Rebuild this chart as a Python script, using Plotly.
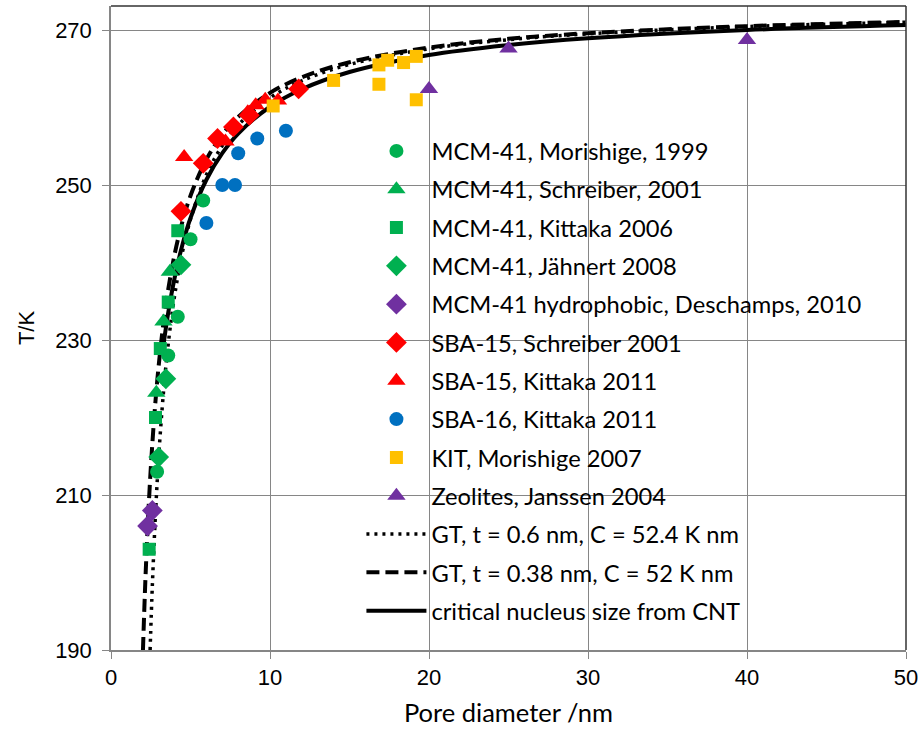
import plotly.graph_objects as go

# ---- measured freezing points in mesopores (pore diameter / nm, T / K) ----
mcm_morishige_d = [2.9, 3.6, 4.2, 5.0, 5.8]
mcm_morishige_t = [213.0, 228.0, 233.0, 243.0, 248.0]

mcm_schreiber_d = [2.85, 3.3, 3.7]
mcm_schreiber_t = [223.2, 232.4, 238.8]

mcm_kittaka_d = [2.4, 2.8, 3.1, 3.6, 4.2]
mcm_kittaka_t = [203.0, 220.0, 228.9, 234.9, 244.1]

mcm_jaehnert_d = [3.0, 3.45, 4.4]
mcm_jaehnert_t = [214.9, 225.0, 239.7]

mcm_hydrophobic_d = [2.3, 2.6]
mcm_hydrophobic_t = [206.0, 208.0]

sba15_schreiber_d = [4.4, 5.8, 6.7, 7.7, 8.7, 11.8]
sba15_schreiber_t = [246.6, 252.8, 256.0, 257.5, 259.0, 262.4]

sba15_kittaka_d = [4.6, 7.2, 8.6, 9.1, 9.7, 10.5]
sba15_kittaka_t = [253.6, 255.6, 259.4, 260.3, 261.0, 260.9]

sba16_kittaka_d = [6.0, 7.0, 7.8, 8.0, 9.2, 11.0]
sba16_kittaka_t = [245.1, 250.0, 250.0, 254.1, 256.0, 257.0]

kit_morishige_d = [10.2, 14.0, 16.85, 16.85, 17.4, 18.4, 19.2, 19.2]
kit_morishige_t = [260.2, 263.5, 265.5, 263.0, 266.1, 265.8, 266.6, 261.0]

zeolites_d = [20.0, 25.0, 40.0]
zeolites_t = [262.4, 267.6, 268.7]

# ---- model curves ----
gt06_d = [2.46, 2.6, 2.8, 3.0, 3.3, 3.6, 4.0, 4.5, 5.0, 6.0, 7.0, 8.0,
          10.0, 12.0, 15.0, 20.0, 25.0, 30.0, 40.0, 50.0]
gt06_t = [190.0, 198.3, 207.65, 214.93, 223.25, 229.48, 235.72, 241.39,
          245.57, 251.32, 255.08, 257.74, 261.24, 263.45, 265.56, 267.58,
          268.75, 269.51, 270.45, 271.0]

gt038_d = [2.01, 2.1, 2.2, 2.4, 2.6, 2.8, 3.0, 3.3, 3.6, 4.0, 4.5, 5.0,
           6.0, 7.0, 8.0, 10.0, 12.0, 15.0, 20.0, 25.0, 30.0, 40.0, 50.0]
gt038_t = [190.0, 195.54, 200.93, 209.74, 216.63, 222.17, 226.72, 232.21,
           236.53, 241.05, 245.34, 248.62, 253.3, 256.48, 258.79, 261.89,
           263.9, 265.85, 267.74, 268.86, 269.59, 270.5, 271.04]

cnt_d = [3.3, 3.6, 4.0, 4.5, 5.0, 6.0, 7.0, 8.0, 10.0,
         12.0, 15.0, 20.0, 25.0, 30.0, 40.0, 50.0]
cnt_t = [229.35, 233.53, 238.0, 242.35, 245.74,
         250.68, 254.11, 256.64, 260.1, 262.36, 264.58, 266.78, 268.07,
         268.93, 270.0, 270.64]

GREEN = "#00B050"
PURPLE = "#7030A0"
RED = "#FF0000"
BLUE = "#0070C0"
GOLD = "#FFC000"

TEXT_FONT = "Lato, 'Noto Sans', sans-serif"
NUM_FONT = "'Liberation Sans', Arial, sans-serif"

fig = go.Figure()

lines = [
    (gt06_d, gt06_t, "GT, t = 0.6 nm, C = 52.4 K nm", "3px,5px", 3.5),
    (gt038_d, gt038_t, "GT, t = 0.38 nm, C = 52 K nm", "13px,6px", 4),
    (cnt_d, cnt_t, "critical nucleus size from CNT", "solid", 4),
]
for i, (d, t, name, dash, w) in enumerate(lines):
    fig.add_trace(go.Scatter(
        x=d, y=t, name=name, mode="lines", line_shape="spline",
        line=dict(color="black", width=w, dash=dash),
        legendrank=20 + i, legendgroup=name,
    ))

series = [
    (mcm_morishige_d, mcm_morishige_t, "MCM-41, Morishige, 1999", "circle", GREEN),
    (mcm_schreiber_d, mcm_schreiber_t, "MCM-41, Schreiber, 2001", "triangle-up", GREEN),
    (mcm_kittaka_d, mcm_kittaka_t, "MCM-41, Kittaka 2006", "square", GREEN),
    (mcm_jaehnert_d, mcm_jaehnert_t, "MCM-41, Jähnert 2008", "diamond", GREEN),
    (mcm_hydrophobic_d, mcm_hydrophobic_t, "MCM-41 hydrophobic, Deschamps, 2010", "diamond", PURPLE),
    (sba15_schreiber_d, sba15_schreiber_t, "SBA-15, Schreiber 2001", "diamond", RED),
    (sba15_kittaka_d, sba15_kittaka_t, "SBA-15, Kittaka 2011", "triangle-up", RED),
    (sba16_kittaka_d, sba16_kittaka_t, "SBA-16, Kittaka 2011", "circle", BLUE),
    (kit_morishige_d, kit_morishige_t, "KIT, Morishige 2007", "square", GOLD),
    (zeolites_d, zeolites_t, "Zeolites, Janssen 2004", "triangle-up", PURPLE),
]
size_of = {"circle": 14, "square": 13, "diamond": 16, "triangle-up": 16}
for i, (d, t, name, sym, col) in enumerate(series):
    fig.add_trace(go.Scatter(
        x=d, y=t, name=name, mode="markers",
        marker=dict(symbol=sym, color=col, size=size_of[sym], line=dict(width=0)),
        legendrank=1 + i, legendgroup=name,
    ))

axis_grey = "#868686"
fig.update_xaxes(
    range=[0, 50], dtick=10, tick0=0,
    showgrid=True, gridcolor=axis_grey, gridwidth=1.3,
    showline=True, linecolor=axis_grey, linewidth=1.5,
    ticks="outside", ticklen=7, tickcolor=axis_grey, tickwidth=1.3,
    zeroline=False,
    tickfont=dict(family=NUM_FONT, size=22, color="black"),
    title=dict(text="Pore diameter /nm", font=dict(family=TEXT_FONT, size=25.5, color="black"), standoff=15),
)
fig.update_yaxes(
    range=[190, 273.1], tickvals=[190, 210, 230, 250, 270],
    showgrid=True, gridcolor=axis_grey, gridwidth=1.3,
    showline=True, linecolor=axis_grey, linewidth=1.5,
    ticks="outside", ticklen=7, tickcolor=axis_grey, tickwidth=1.3,
    zeroline=False,
    tickfont=dict(family=NUM_FONT, size=22, color="black"),
    ticklabelstandoff=6,
    title=dict(text="T/K", font=dict(family=NUM_FONT, size=22, color="black"), standoff=14),
)

# white panel behind the legend, sitting over the gridlines but under the data
fig.add_shape(type="rect", xref="paper", yref="paper", layer="between",
              x0=0.272, x1=0.952, y0=0.022, y1=0.804,
              fillcolor="white", line=dict(width=0))

# dark frame on the top and right of the plotting area
for x0, y0, x1, y1 in [(0, 1, 1, 1), (1, 0, 1, 1)]:
    fig.add_shape(type="line", xref="paper", yref="paper", x0=x0, y0=y0, x1=x1, y1=y1,
                  line=dict(color="#333333", width=1.5))

fig.update_layout(
    width=924, height=731,
    margin=dict(l=111, r=16, t=6, b=81),
    paper_bgcolor="white", plot_bgcolor="white",
    showlegend=True,
    legend=dict(
        x=0.315, y=0.809, xanchor="left", yanchor="top",
        bgcolor="rgba(0,0,0,0)", borderwidth=0,
        font=dict(family=TEXT_FONT, size=23.7, color="black"),
        traceorder="grouped", tracegroupgap=4.5, itemwidth=60,
    ),
)

fig.write_html("out.html")
